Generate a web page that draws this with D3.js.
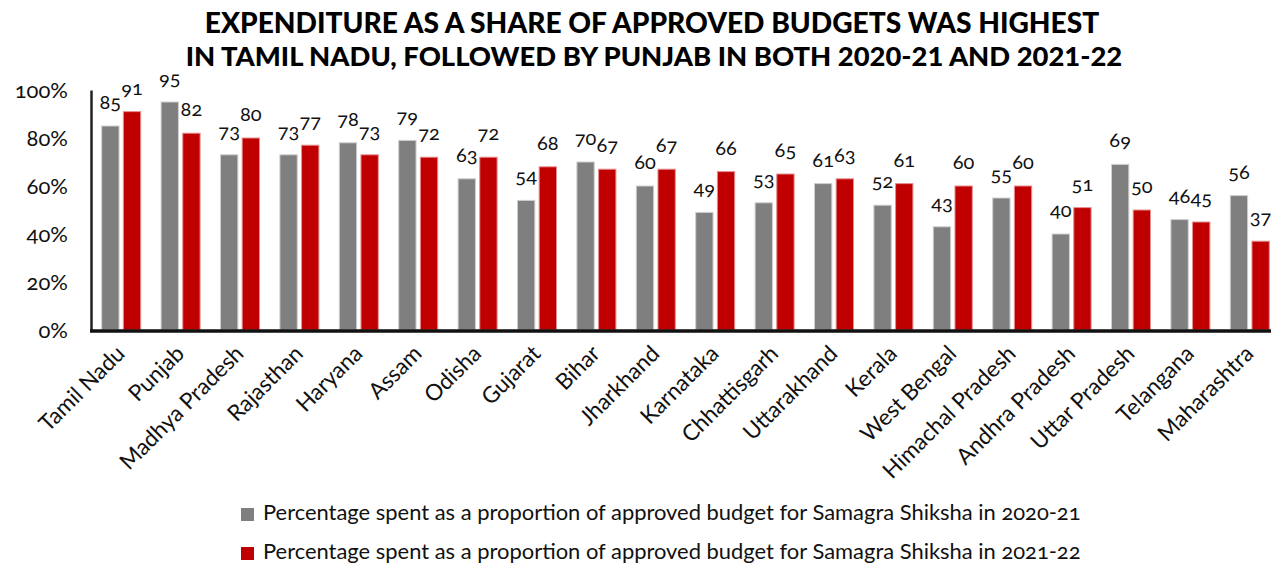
<!DOCTYPE html>
<html><head><meta charset="utf-8">
<script src="https://cdn.jsdelivr.net/npm/d3@7"></script>
<style>
body{margin:0;background:#fff;}
svg{display:block;font-family:Lato,"Open Sans",sans-serif;font-variant-numeric:oldstyle-nums;}
.title{font-variant-numeric:lining-nums;}
</style></head><body>
<svg id="c" width="1271" height="564"></svg>
<script>
const categories=["Tamil Nadu","Punjab","Madhya Pradesh","Rajasthan","Haryana","Assam","Odisha","Gujarat","Bihar","Jharkhand","Karnataka","Chhattisgarh","Uttarakhand","Kerala","West Bengal","Himachal Pradesh","Andhra Pradesh","Uttar Pradesh","Telangana","Maharashtra"];
const values2021=[85,95,73,73,78,79,63,54,70,60,49,53,61,52,43,55,40,69,46,56];
const values2122=[91,82,80,77,73,72,72,68,67,67,66,65,63,61,60,60,51,50,45,37];
const seriesNames=["Percentage spent as a proportion of approved budget for Samagra Shiksha in 2020-21","Percentage spent as a proportion of approved budget for Samagra Shiksha in 2021-22"];
const seriesColors=["#7f7f7f","#c00000"];
const strokeColors=["#cfcfcf","#e59090"];
const yTicks=[0,20,40,60,80,100];
const titleLines=["EXPENDITURE AS A SHARE OF APPROVED BUDGETS WAS HIGHEST","IN TAMIL NADU, FOLLOWED BY PUNJAB IN BOTH 2020-21 AND 2021-22"];

const svg=d3.select("#c");
const x=d3.scaleBand().domain(categories).range([91.5,91.5+20*59.4]).padding(0);
const x1=d3.scaleBand().domain([0,1]).range([x.bandwidth()/2-19.5,x.bandwidth()/2+19.5]).paddingInner(0.2);
const y=d3.scaleLinear().domain([0,100]).range([330,90]);

function fitText(sel,target){const n=sel.node();const w=n.getComputedTextLength();const fs=parseFloat(sel.attr("font-size"));sel.attr("font-size",fs*target/w);}
const t1=svg.append("text").attr("class","title").attr("x",652).attr("y",33).attr("text-anchor","middle").attr("font-size",22).attr("font-weight",900).attr("fill","#000").text(titleLines[0]);
fitText(t1,895);
const t2=svg.append("text").attr("class","title").attr("x",654).attr("y",66).attr("text-anchor","middle").attr("font-size",22).attr("font-weight",900).attr("fill","#000").text(titleLines[1]);
fitText(t2,937);

const data=categories.map((c,i)=>({c,v:[values2021[i],values2122[i]]}));
const g=svg.append("g");
const grp=g.selectAll("g.cat").data(data).join("g").attr("transform",d=>`translate(${x(d.c)},0)`);
grp.selectAll("rect").data(d=>d.v.map((v,k)=>({v,k}))).join("rect")
  .attr("x",d=>x1(d.k)).attr("width",x1.bandwidth())
  .attr("y",d=>y(d.v)).attr("height",d=>y(0)-y(d.v))
  .attr("fill",d=>seriesColors[d.k]).attr("stroke",d=>strokeColors[d.k]).attr("stroke-width",1);
grp.selectAll("text").data(d=>d.v.map((v,k)=>({v,k}))).join("text")
  .attr("x",d=>x1(d.k)+x1.bandwidth()/2).attr("y",d=>y(d.v)-17)
  .attr("text-anchor","middle").attr("font-size",20).attr("fill","#111").text(d=>d.v);

const yAxis=d3.axisLeft(y).tickValues(yTicks).tickSize(0).tickPadding(23).tickFormat(d=>d+"%");
const ya=svg.append("g").attr("transform","translate(91,0)").call(yAxis);
ya.select(".domain").attr("stroke","#222").attr("stroke-width",2.5);
ya.selectAll("text").attr("font-size",22).attr("fill","#111").attr("font-family","Lato,sans-serif");

const xAxis=d3.axisBottom(x).tickSize(0).tickSizeOuter(0).tickPadding(0);
const xa=svg.append("g").attr("transform","translate(0,331)").call(xAxis);
xa.select(".domain").remove();
svg.append("line").attr("x1",90).attr("x2",1271).attr("y1",331).attr("y2",331).attr("stroke","#111").attr("stroke-width",3.5);
xa.selectAll(".tick text").attr("font-size",22.5).attr("fill","#111").attr("font-family","Lato,sans-serif")
  .attr("text-anchor","end").attr("y",0).attr("dy",0)
  .attr("transform","translate(5,24) rotate(-45)");

const leg=svg.append("g");
seriesNames.forEach((n,i)=>{
  const yy=508+i*39;
  leg.append("rect").attr("x",241).attr("y",yy).attr("width",13).attr("height",13).attr("fill",seriesColors[i]);
  const tt=leg.append("text").attr("x",263).attr("y",yy+12).attr("font-size",19).attr("fill","#111").text(n);
  fitText(tt,818);
});
</script></body></html>
